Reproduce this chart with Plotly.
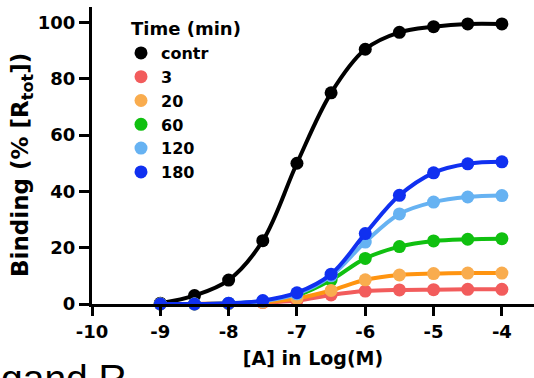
import plotly.graph_objects as go

log_conc = [-9, -8.5, -8, -7.5, -7, -6.5, -6, -5.5, -5, -4.5, -4]
series_names = ["contr", "3", "20", "60", "120", "180"]
binding = {
    "contr": [0.3, 3, 8.5, 22.5, 50, 75, 90.5, 96.5, 98.5, 99.5, 99.5],
    "3":     [0, 0, 0.2, 0.5, 1.2, 3.2, 4.6, 5.0, 5.1, 5.2, 5.2],
    "20":    [0, 0, 0.2, 0.6, 2.0, 4.8, 8.6, 10.3, 10.8, 11.0, 11.0],
    "60":    [0, 0, 0.2, 0.8, 3.0, 8.5, 16.2, 20.4, 22.4, 23.0, 23.2],
    "120":   [0, 0, 0.3, 1.0, 3.6, 10.0, 22.0, 32.0, 36.2, 38.0, 38.5],
    "180":   [0, 0, 0.3, 1.2, 4.0, 10.6, 25.0, 38.6, 46.6, 49.8, 50.5],
}
marker_colors = {
    "contr": "#000000", "3": "#f25c5c", "20": "#f9ac4e", "60": "#10c010",
    "120": "#66b2f2", "180": "#1030f0",
}
line_colors = {
    "contr": "#000000", "3": "#f25c5c", "20": "#ff9410", "60": "#10c010",
    "120": "#66b2f2", "180": "#1030f0",
}
draw_order = ["contr", "3", "60", "20", "120", "180"]
x_ticks = [-10, -9, -8, -7, -6, -5, -4]
y_ticks = [0, 20, 40, 60, 80, 100]
legend_title = "Time (min)"
x_title = "[A] in Log(M)"
y_title = "Binding (% [R<sub>tot</sub>])"
cropped_text = "gand R"

FONT = "DejaVu Sans, sans-serif"
PW, PH = 442, 297  # plot area size in px

fig = go.Figure()
for name in draw_order:
    fig.add_trace(go.Scatter(
        x=log_conc, y=binding[name], mode="lines+markers",
        line=dict(color=line_colors[name], width=4, shape="spline", smoothing=1.0),
        marker=dict(color=marker_colors[name], size=13),
        cliponaxis=False, showlegend=False,
    ))
for name in series_names:
    fig.add_trace(go.Scatter(
        x=[None], y=[None], mode="markers", name=name,
        marker=dict(color=marker_colors[name], size=13),
    ))

fig.update_layout(
    width=534, height=378,
    margin=dict(l=92, r=0, t=7, b=74),
    paper_bgcolor="white", plot_bgcolor="white",
    font=dict(family=FONT, size=18, color="black", weight="bold"),
    showlegend=True,
    legend=dict(
        x=(121 - 92) / PW, y=1 - (36 - 7) / PH, xanchor="left", yanchor="top",
        font=dict(family=FONT, size=16, weight="bold", color="black"),
        bgcolor="rgba(0,0,0,0)", tracegroupgap=0, itemwidth=30,
    ),
    xaxis=dict(
        range=[-10, -3.53], tickvals=x_ticks, ticktext=[str(v) for v in x_ticks],
        showgrid=False, zeroline=False, showline=True, linecolor="black", linewidth=3,
        ticks="outside", ticklen=9, tickwidth=3, tickcolor="black",
        tickfont=dict(family=FONT, size=18, weight="bold"),
        title=dict(text=x_title, font=dict(family=FONT, size=19, weight="bold"), standoff=12),
    ),
    yaxis=dict(
        range=[0, 105.5], tickvals=y_ticks,
        showgrid=False, zeroline=False, showline=True, linecolor="black", linewidth=3,
        ticks="outside", ticklen=10, tickwidth=3, tickcolor="black",
        tickfont=dict(family=FONT, size=18, weight="bold"),
    ),
)
fig.add_annotation(
    text=y_title, xref="paper", yref="paper", textangle=-90,
    x=(22 - 92) / PW, y=(304 - 165) / PH, xanchor="center", yanchor="middle",
    showarrow=False, font=dict(family=FONT, size=23, color="black", weight="bold"),
)
fig.add_annotation(
    text=legend_title, xref="paper", yref="paper",
    x=(129 - 92) / PW, y=1 - (28 - 7) / PH, xanchor="left", yanchor="middle",
    showarrow=False, font=dict(family=FONT, size=18, color="black", weight="bold"),
)
fig.add_annotation(
    text=cropped_text, xref="paper", yref="paper", x=-93 / PW, y=(304 - 355) / PH,
    xanchor="left", yanchor="top", showarrow=False,
    font=dict(family="Liberation Sans, Arial, sans-serif", size=39, color="black", weight="normal"),
)
fig.write_html("out.html")
